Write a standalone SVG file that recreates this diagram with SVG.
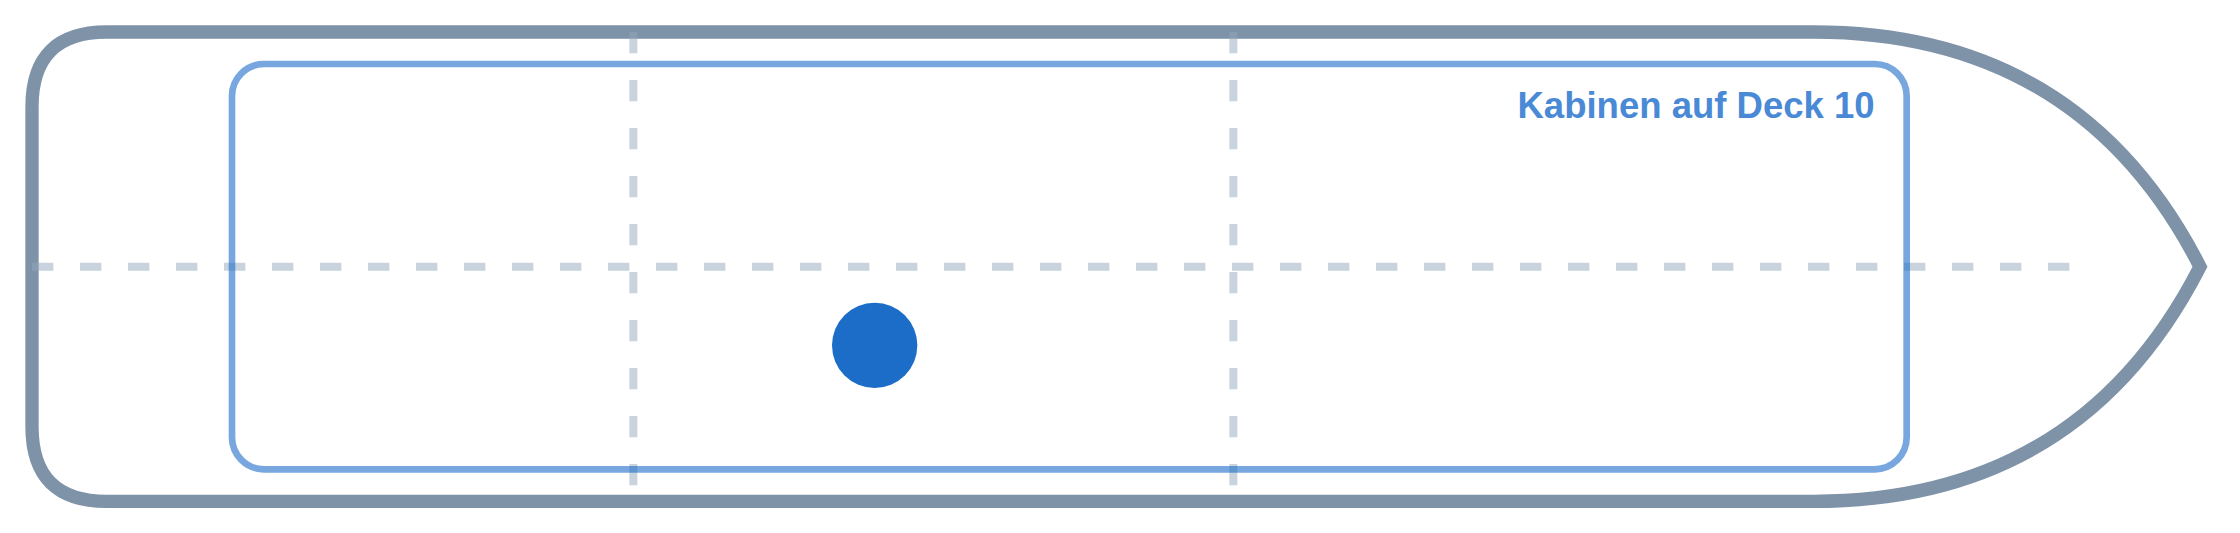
<svg xmlns="http://www.w3.org/2000/svg" width="2240" height="533" viewBox="0 0 2240 533">
  <style>
    .hull { fill: #ffffff; stroke: #7f93a8; stroke-width: 10; stroke-linejoin: miter; }
    .axis { stroke: #94a7bb; stroke-opacity: 0.5; stroke-width: 6; stroke-dasharray: 16 20; fill: none; }
    .zone { fill: none; stroke: #1c6dc8; stroke-opacity: 0.6; stroke-width: 5; }
    .label { font-family: "Liberation Sans", Arial, Helvetica, sans-serif; font-weight: bold; font-size: 27.4px; fill: #4a89d6; }
    .marker { fill: #1c6dc8; }
  </style>
  <rect width="2240" height="533" fill="#ffffff"/>
  <g transform="scale(1.3333333)">
    <g id="hull">
      <path class="hull" d="M 80 24 L 1360 24 Q 1560 24 1650 200 Q 1560 376 1360 376 L 80 376 Q 24 376 24 320 L 24 80 Q 24 24 80 24 Z"/>
    </g>
    <g id="axes">
      <line class="axis" x1="24" y1="200" x2="1560" y2="200"/>
      <line class="axis" x1="475" y1="24" x2="475" y2="376"/>
      <line class="axis" x1="925" y1="24" x2="925" y2="376"/>
    </g>
    <g id="cabin-zone">
      <rect class="zone" x="174" y="48" width="1256" height="304" rx="24" ry="24"/>
      <text class="label" x="1406" y="88.2" text-anchor="end">Kabinen auf Deck 10</text>
    </g>
    <g id="position">
      <circle class="marker" cx="656" cy="259" r="32"/>
    </g>
  </g>
</svg>
